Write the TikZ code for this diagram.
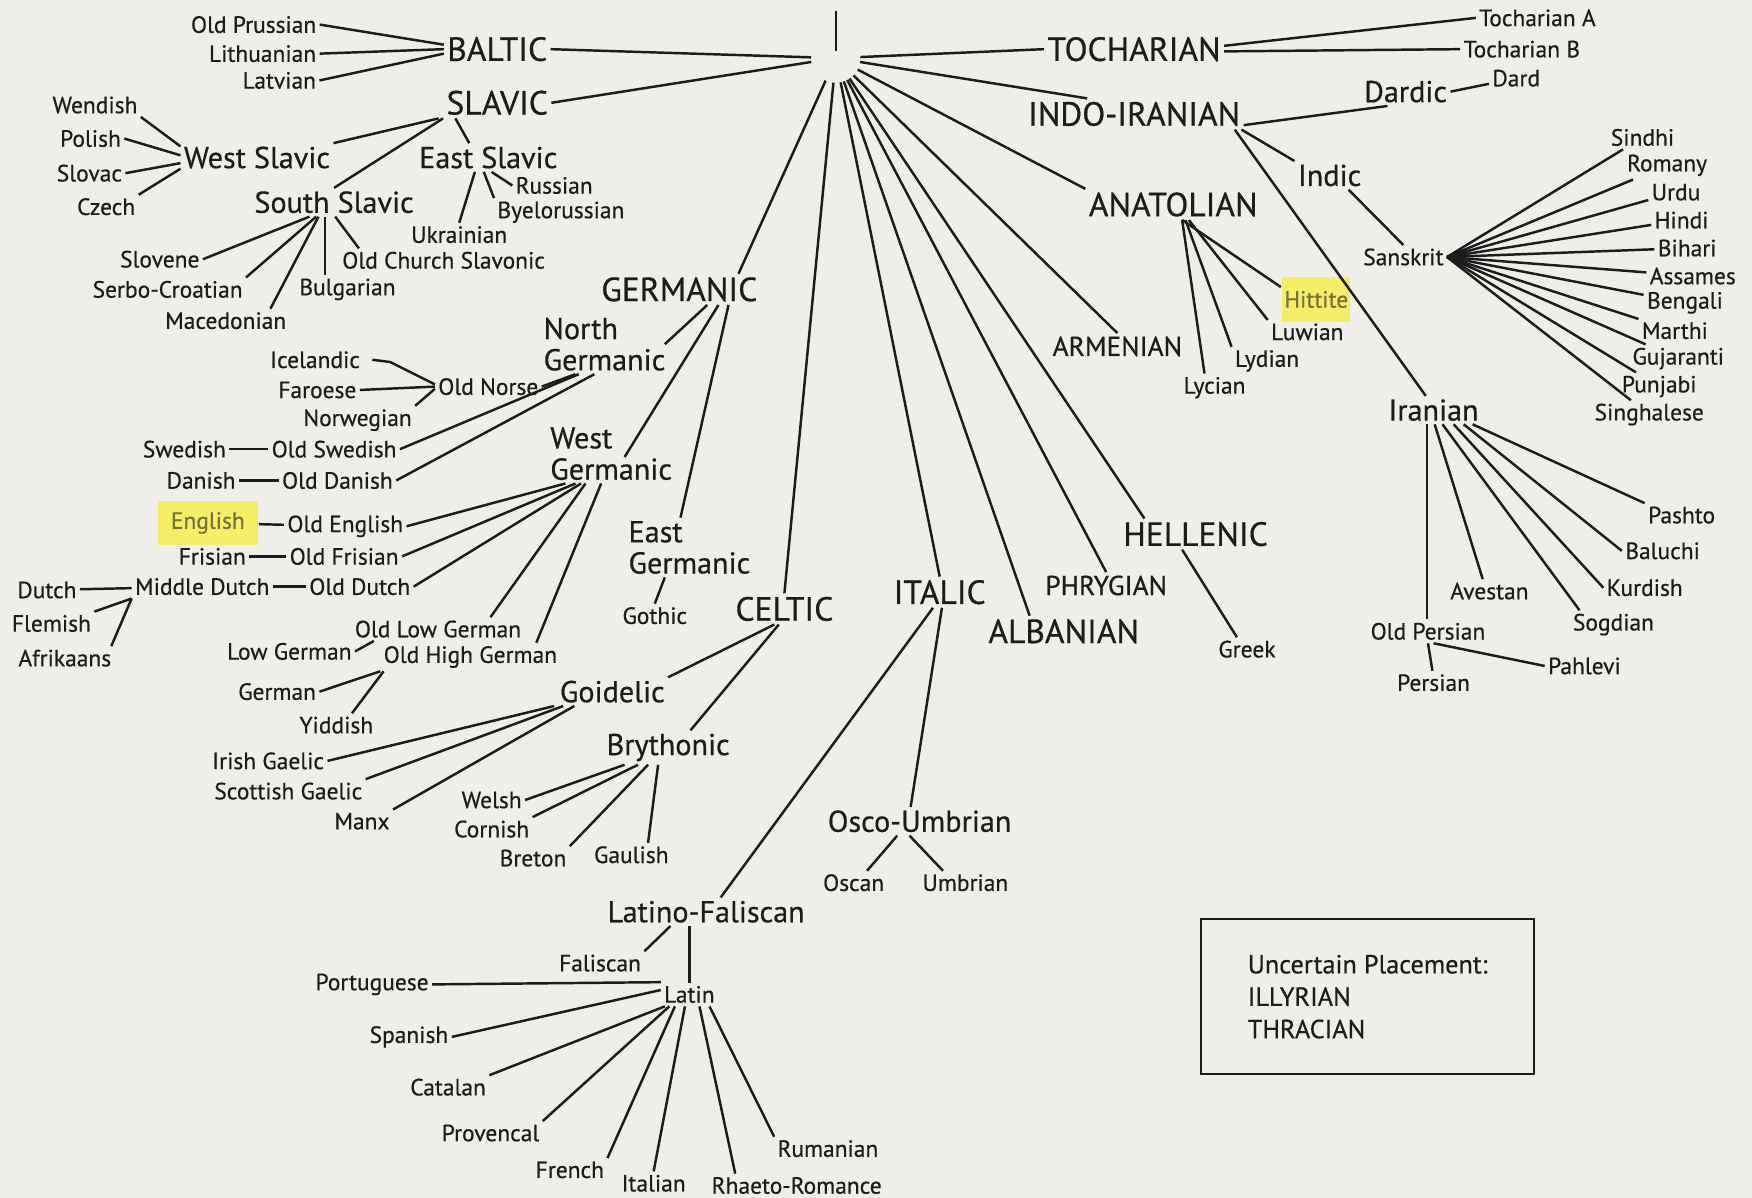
\documentclass[tikz,border=0pt]{standalone}
\usepackage{fontspec}
\setmainfont{PT Sans}[FakeBold=0.5]
\usetikzlibrary{positioning}
\definecolor{paper}{RGB}{239,238,233}
\definecolor{ink}{RGB}{28,28,28}
\definecolor{marker}{RGB}{244,238,104}
\definecolor{markink}{RGB}{118,114,58}
\tikzset{
    leaf/.style={font=\fontsize{21}{23}\selectfont, inner sep=2pt, text=ink},
    subfam/.style={font=\fontsize{27}{28}\selectfont, inner sep=2pt, align=left, text=ink},
    fam/.style={font=\fontsize{30}{32}\selectfont, inner sep=2pt, text=ink},
    famsm/.style={font=\fontsize{24.5}{26}\selectfont, inner sep=2pt, text=ink},
    marked/.style={leaf, fill=marker, text=markink, minimum height=40pt},
    hub/.style={circle, minimum size=42pt, inner sep=0pt},
    notebox/.style={draw=ink, line width=2pt, align=left, minimum width=298pt, minimum height=139pt, font=\fontsize{23.5}{29}\selectfont, text=ink}
}

\begin{document}
\begin{tikzpicture}[x=1pt, y=-1pt, line width=2.2pt, ink]
    \fill[paper] (0,0) rectangle (1568,1072);

    \node[hub] (pie) at (748,52) {};
    \draw ([yshift=6]pie.center) -- ([yshift=42]pie.center);

    \node[fam] (baltic) at (445,44) {BALTIC};
    \node[fam] (slavic) at (445,92) {SLAVIC};
    \node[fam] (tochar) at (1015,44) {TOCHARIAN};
    \node[fam] (indoir) at (1015,102) {INDO-IRANIAN};
    \node[fam] (anatol) at (1050,183) {ANATOLIAN};
    \node[fam] (germ) at (608,259) {GERMANIC};
    \node[fam] (celtic) at (702,545) {CELTIC};
    \node[fam] (italic) at (841,530) {ITALIC};
    \node[fam] (alban) at (952,565) {ALBANIAN};
    \node[fam] (hellen) at (1070,478) {HELLENIC};
    \node[famsm] (armen) at (1000,310) {ARMENIAN};
    \node[famsm] (phryg) at (990,524) {PHRYGIAN};

    \node[subfam] (westsl) at (230,141) {West Slavic};
    \node[subfam] (eastsl) at (437,141) {East Slavic};
    \node[subfam] (southsl) at (299,181) {South Slavic};
    \node[subfam] (northg) at (541,308) {North\\Germanic};
    \node[subfam] (westg) at (547,406) {West\\Germanic};
    \node[subfam] (eastg) at (617,490) {East\\Germanic};
    \node[subfam] (goid) at (548,619) {Goidelic};
    \node[subfam] (bryth) at (598,669) {Brythonic};
    \node[subfam] (latfal) at (632,816) {Latino-Faliscan};
    \node[subfam] (oscumb) at (823,735) {Osco-Umbrian};
    \node[subfam] (dardic) at (1258,82) {Dardic};
    \node[subfam] (indic) at (1190,157) {Indic};
    \node[subfam] (iranian) at (1283,367) {Iranian};

    \node[leaf] (oprus) at (227,22) {Old Prussian};
    \node[leaf] (lith) at (235,48) {Lithuanian};
    \node[leaf] (latv) at (250,72) {Latvian};
    \node[leaf] (wend) at (85,94) {Wendish};
    \node[leaf] (polish) at (81,124) {Polish};
    \node[leaf] (slovac) at (80,155) {Slovac};
    \node[leaf] (czech) at (95,185) {Czech};
    \node[leaf] (russ) at (496,166) {Russian};
    \node[leaf] (byel) at (502,190) {Byelorussian};
    \node[leaf] (ukr) at (411,210) {Ukrainian};
    \node[leaf] (slovene) at (143,232) {Slovene};
    \node[leaf] (serbo) at (150,259) {Serbo-Croatian};
    \node[leaf] (maced) at (202,287) {Macedonian};
    \node[leaf] (bulg) at (311,259) {Bulgarian};
    \node[leaf] (ocs) at (397,233) {Old Church Slavonic};

    \node[leaf] (icel) at (282,322) {Icelandic};
    \node[leaf] (faroe) at (284,349) {Faroese};
    \node[leaf] (norw) at (320,376) {Norwegian};
    \node[leaf] (onorse) at (437,346) {Old Norse};
    \node[leaf] (swed) at (165,402) {Swedish};
    \node[leaf] (oswed) at (299,402) {Old Swedish};
    \node[leaf] (dan) at (180,430) {Danish};
    \node[leaf] (odan) at (302,430) {Old Danish};
    \node[marked, minimum width=89pt] (engl) at (186,468) {English};
    \node[leaf] (oengl) at (309,471) {Old English};
    \node[leaf] (fris) at (190,498) {Frisian};
    \node[leaf] (ofris) at (308,498) {Old Frisian};
    \node[leaf] (dutch) at (42,528) {Dutch};
    \node[leaf] (mdutch) at (181,525) {Middle Dutch};
    \node[leaf] (odutch) at (322,525) {Old Dutch};
    \node[leaf] (flem) at (46,558) {Flemish};
    \node[leaf] (afrik) at (58,589) {Afrikaans};
    \node[leaf] (olowg) at (392,563) {Old Low German};
    \node[leaf] (lowg) at (259,583) {Low German};
    \node[leaf] (ohighg) at (421,588) {Old High German};
    \node[leaf] (german) at (248,619) {German};
    \node[leaf] (yidd) at (301,649) {Yiddish};
    \node[leaf] (gothic) at (586,551) {Gothic};

    \node[leaf] (irish) at (240,681) {Irish Gaelic};
    \node[leaf] (scot) at (258,708) {Scottish Gaelic};
    \node[leaf] (manx) at (324,735) {Manx};
    \node[leaf] (welsh) at (440,716) {Welsh};
    \node[leaf] (corn) at (440,742) {Cornish};
    \node[leaf] (breton) at (477,768) {Breton};
    \node[leaf] (gaul) at (565,765) {Gaulish};

    \node[leaf] (falis) at (537,862) {Faliscan};
    \node[leaf] (latin) at (617,890) {Latin};
    \node[leaf] (portug) at (333,881) {Portuguese};
    \node[leaf] (span) at (366,928) {Spanish};
    \node[leaf] (catal) at (401,973) {Catalan};
    \node[leaf] (prov) at (439,1014) {Provencal};
    \node[leaf] (french) at (510,1047) {French};
    \node[leaf] (ital) at (585,1059) {Italian};
    \node[leaf] (rhaeto) at (713,1061) {Rhaeto-Romance};
    \node[leaf] (ruman) at (741,1028) {Rumanian};
    \node[leaf] (oscan) at (764,790) {Oscan};
    \node[leaf] (umbr) at (864,790) {Umbrian};

    \node[leaf] (tochA) at (1376,16) {Tocharian A};
    \node[leaf] (tochB) at (1362,44) {Tocharian B};
    \node[leaf] (dard) at (1357,70) {Dard};
    \node[leaf] (sanskr) at (1256,230) {Sanskrit};
    \node[leaf] (sindhi) at (1470,123) {Sindhi};
    \node[leaf] (romany) at (1492,148) {Romany};
    \node[leaf] (urdu) at (1500,172) {Urdu};
    \node[leaf] (hindi) at (1505,197) {Hindi};
    \node[leaf] (bihari) at (1510,222) {Bihari};
    \node[leaf] (assam) at (1515,247) {Assames};
    \node[leaf] (bengali) at (1508,271) {Bengali};
    \node[leaf] (marthi) at (1499,296) {Marthi};
    \node[leaf] (gujar) at (1502,321) {Gujaranti};
    \node[leaf] (punjabi) at (1485,346) {Punjabi};
    \node[leaf] (singh) at (1476,371) {Singhalese};

    \node[marked, minimum width=58pt] (hittite) at (1178,268) {Hittite};
    \node[leaf] (luwian) at (1170,297) {Luwian};
    \node[leaf] (lydian) at (1134,323) {Lydian};
    \node[leaf] (lycian) at (1087,347) {Lycian};
    \node[leaf] (greek) at (1116,581) {Greek};

    \node[leaf] (pashto) at (1505,461) {Pashto};
    \node[leaf] (baluchi) at (1488,493) {Baluchi};
    \node[leaf] (kurdish) at (1472,526) {Kurdish};
    \node[leaf] (avestan) at (1333,529) {Avestan};
    \node[leaf] (sogdian) at (1444,559) {Sogdian};
    \node[leaf] (opers) at (1278,565) {Old Persian};
    \node[leaf] (pers) at (1283,611) {Persian};
    \node[leaf] (pahlevi) at (1418,596) {Pahlevi};

    \node[notebox] (uncert) at (1224,892) {Uncertain Placement:\\ILLYRIAN\\THRACIAN};

    % from the root
    \draw (pie) -- (baltic.east);
    \draw (pie) -- (slavic.east);
    \draw (pie) -- (tochar.west);
    \draw (pie) -- ([xshift=-42]indoir.north);
    \draw (pie) -- (anatol.north west);
    \draw (pie) -- (armen.north);
    \draw (pie) -- ([xshift=22]hellen.north west);
    \draw (pie) -- (phryg.north);
    \draw (pie) -- ([xshift=40]alban.north west);
    \draw (pie) -- (italic.north);
    \draw (pie) -- (celtic.north);
    \draw (pie) -- ([xshift=-20]germ.north east);

    % balto-slavic
    \draw (oprus.east) -- ([yshift=4]baltic.west);
    \draw (lith.east) -- (baltic.west);
    \draw (latv.east) -- ([yshift=-4]baltic.west);
    \draw ([xshift=-4]slavic.south west) -- (westsl.north east);
    \draw (slavic.south west) -- (southsl.north);
    \draw ([xshift=11]slavic.south west) -- ([xshift=-17]eastsl.north);
    \draw (wend.south east) -- ([yshift=10]westsl.west);
    \draw (polish.east) -- ([yshift=2]westsl.west);
    \draw (slovac.east) -- ([yshift=-5]westsl.west);
    \draw (czech.north east) -- ([yshift=-10]westsl.west);
    \draw ([xshift=3]eastsl.south) -- (russ.west);
    \draw ([xshift=-4]eastsl.south) -- (byel.north west);
    \draw ([xshift=-12]eastsl.south) -- (ukr.north);
    \draw ([xshift=-22]southsl.south) -- (slovene.east);
    \draw ([xshift=-16]southsl.south) -- (serbo.north east);
    \draw ([xshift=-14]southsl.south) -- ([xshift=40]maced.north);
    \draw ([xshift=-8]southsl.south) -- ([xshift=-8]southsl.south |- bulg.north);
    \draw ([xshift=1]southsl.south) -- ([xshift=18]ocs.north west);

    % germanic
    \draw ([xshift=25]germ.south) -- ([xshift=54]northg.center);
    \draw ([xshift=35]germ.south) -- ([xshift=12,yshift=-3]westg.center);
    \draw ([xshift=44]germ.south) -- ([xshift=-8]eastg.north);
    \draw ([xshift=-22]eastg.south) -- (gothic.north);
    \draw ([xshift=-26]northg.south) -- (onorse.east);
    \draw ([xshift=-23]northg.south) -- (oswed.east);
    \draw ([xshift=-9]northg.south) -- (odan.east);
    \draw ([xshift=8]icel.east) -- ++(16,2) -- ([yshift=2]onorse.west);
    \draw (faroe.east) -- (onorse.west);
    \draw (norw.north east) -- ([yshift=-2]onorse.west);
    \draw (swed) -- (oswed);
    \draw (dan) -- (odan);
    \draw (engl) -- (oengl);
    \draw (fris) -- (ofris);
    \draw (mdutch) -- (odutch);
    \draw (dutch) -- (mdutch);
    \draw (mdutch.south west) -- (flem.north east);
    \draw (mdutch.south west) -- ([xshift=-3]afrik.north east);
    \draw ([xshift=-41]westg.south) -- (oengl.east);
    \draw ([xshift=-32]westg.south) -- (ofris.east);
    \draw ([xshift=-27]westg.south) -- (odutch.east);
    \draw ([xshift=-23]westg.south) -- ([xshift=47]olowg.north);
    \draw ([xshift=-9]westg.south) -- ([xshift=59]ohighg.north);
    \draw (lowg.east) -- ([xshift=20]olowg.south west);
    \draw (ohighg.south west) -- (german.east);
    \draw ([xshift=3]ohighg.south west) -- ([xshift=14]yidd.north);

    % celtic
    \draw ([xshift=-9]celtic.south) -- (goid.north east);
    \draw ([xshift=-5]celtic.south) -- ([xshift=20]bryth.north);
    \draw ([xshift=-2]goid.south west) -- (irish.east);
    \draw ([xshift=6]goid.south west) -- (scot.north east);
    \draw ([xshift=16]goid.south west) -- (manx.north east);
    \draw ([xshift=-39]bryth.south) -- (welsh.east);
    \draw ([xshift=-27]bryth.south) -- (corn.north east);
    \draw ([xshift=-18]bryth.south) -- (breton.north east);
    \draw ([xshift=-9]bryth.south) -- ([xshift=15]gaul.north);

    % italic
    \draw ([xshift=-6]italic.south) -- ([xshift=13]latfal.north);
    \draw ([xshift=2]italic.south) -- ([xshift=-8]oscumb.north);
    \draw ([xshift=-20]oscumb.south) -- ([xshift=12]oscan.north);
    \draw ([xshift=-9]oscumb.south) -- ([xshift=-20]umbr.north);
    \draw ([xshift=-32]latfal.south) -- (falis.north east);
    \draw ([xshift=-15]latfal.south) -- (latin.north);
    \draw (portug.east) -- ([yshift=11]latin.west);
    \draw (span.east) -- ([yshift=4]latin.west);
    \draw ([xshift=-22]latin.south) -- (catal.north east);
    \draw ([xshift=-18]latin.south) -- (prov.north east);
    \draw ([xshift=-13]latin.south) -- (french.north east);
    \draw ([xshift=-4]latin.south) -- (ital.north);
    \draw ([xshift=9]latin.south) -- ([xshift=-55]rhaeto.north);
    \draw ([xshift=18]latin.south) -- (ruman.north west);

    % eastern branches
    \draw ([yshift=3]tochar.east) -- (tochA.west);
    \draw ([yshift=-2]tochar.east) -- (tochB.west);
    \draw ([yshift=-10]indoir.east) -- ([xshift=24]dardic.south west);
    \draw (dardic.east) -- ([yshift=-5]dard.west);
    \draw ([xshift=-2]indoir.south east) -- (indic.north west);
    \draw ([xshift=-8]indoir.south east) -- ([xshift=-7]iranian.north);
    \draw ([xshift=17]indic.south) -- (sanskr.north);
    \foreach \lang in {sindhi,romany,urdu,hindi,bihari,assam,bengali,marthi,gujar,punjabi,singh}
        \draw (sanskr.east) -- (\lang);
    \draw ([xshift=-6]iranian.south) -- ([xshift=-1]opers.north);
    \draw ([xshift=1]iranian.south) -- ([xshift=-6]avestan.north);
    \draw ([xshift=8]iranian.south) -- ([xshift=9]sogdian.north west);
    \draw ([xshift=18]iranian.south) -- (kurdish.west);
    \draw ([xshift=27]iranian.south) -- (baluchi.west);
    \draw ([xshift=35]iranian.south) -- (pashto.north west);
    \draw (opers.south) -- ([xshift=-1]pers.north);
    \draw ([xshift=5]opers.south) -- (pahlevi.west);
    \draw ([xshift=8]anatol.south) -- ([yshift=-10]hittite.north west);
    \draw ([xshift=14]anatol.south) -- (luwian.north west);
    \draw ([xshift=11]anatol.south) -- (lydian.north west);
    \draw ([xshift=8]anatol.south) -- ([xshift=-9]lycian.north);
    \draw ([xshift=-12]hellen.south) -- ([xshift=-9]greek.north);
\end{tikzpicture}
\end{document}
